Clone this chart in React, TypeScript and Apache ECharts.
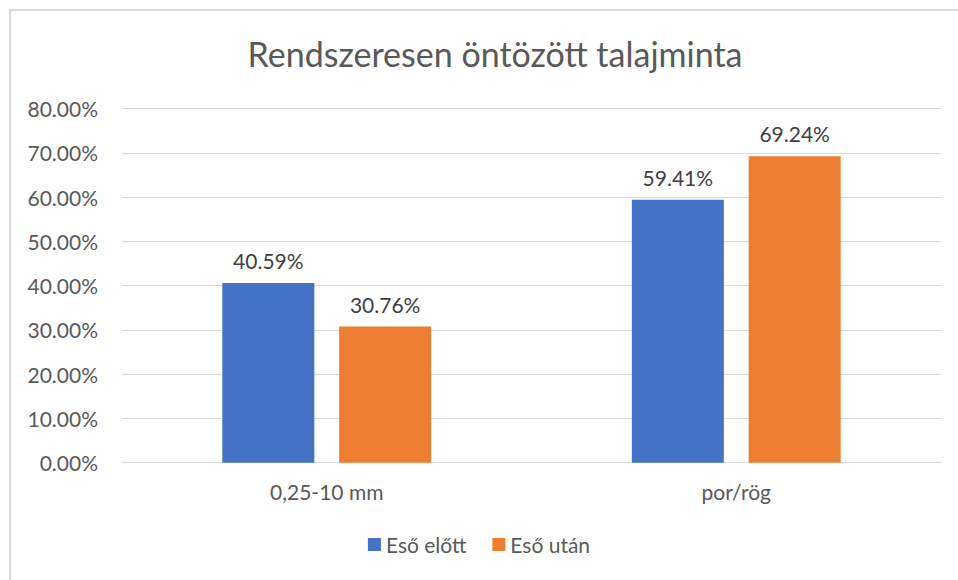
import React, { useEffect, useRef } from "react";
import * as echarts from "echarts";

const categories = ["0,25-10 mm", "por/rög"];
const seriesNames = ["Eső előtt", "Eső után"];
const before = [40.59, 59.41];
const after = [30.76, 69.24];
const titleText = "Rendszeresen öntözött talajminta";

const FONT = "Lato, 'Open Sans', sans-serif";

export default function App() {
  const ref = useRef<HTMLDivElement>(null);
  useEffect(() => {
    if (!ref.current) return;
    const chart = echarts.init(ref.current, undefined, { renderer: "svg" });
    const labelFmt = (p: any) => p.value.toFixed(2) + "%";
    chart.setOption({
      animation: false,
      backgroundColor: "#ffffff",
      textStyle: { fontFamily: FONT },
      title: {
        text: titleText,
        top: 31,
        left: 490,
        textAlign: "center",
        textStyle: { fontFamily: FONT, fontSize: 34, fontWeight: "normal", color: "#595959" },
      },
      graphic: [
        {
          type: "rect",
          shape: { x: 10, y: 10, width: 1000, height: 700 },
          style: { fill: "none", stroke: "#d9d9d9", lineWidth: 2 },
          silent: true,
        },
      ],
      legend: {
        data: seriesNames,
        bottom: 20,
        left: "center",
        itemWidth: 13,
        itemHeight: 13,
        itemGap: 26,
        icon: "rect",
        textStyle: { fontFamily: FONT, fontSize: 21, color: "#595959" },
      },
      grid: { left: 122, right: 17, top: 108.5, bottom: 117.3, containLabel: false },
      xAxis: {
        type: "category",
        data: categories,
        axisLine: { show: true, lineStyle: { color: "#d9d9d9", width: 1 } },
        axisTick: { show: false },
        axisLabel: { fontFamily: FONT, fontSize: 21, color: "#595959", margin: 18 },
      },
      yAxis: {
        type: "value",
        min: 0,
        max: 80,
        interval: 10,
        axisLine: { show: false },
        axisTick: { show: false },
        splitLine: { lineStyle: { color: "#d9d9d9", width: 1 } },
        axisLabel: {
          fontFamily: FONT,
          fontSize: 21,
          color: "#595959",
          margin: 24,
          formatter: (v: number) => v.toFixed(2) + "%",
        },
      },
      series: [
        {
          name: seriesNames[0],
          type: "bar",
          data: before,
          barWidth: 92,
          barGap: "27%",
          itemStyle: { color: "#4472C4" },
          label: { show: true, position: "top", distance: 12, formatter: labelFmt, fontFamily: FONT, fontSize: 21, color: "#404040" },
        },
        {
          name: seriesNames[1],
          type: "bar",
          data: after,
          barWidth: 92,
          barGap: "27%",
          itemStyle: { color: "#ED7D31" },
          label: { show: true, position: "top", distance: 12, formatter: labelFmt, fontFamily: FONT, fontSize: 21, color: "#404040" },
        },
      ],
    });
    return () => chart.dispose();
  }, []);
  return (
    <div
      ref={ref}
      style={{ position: "fixed", left: 0, top: 0, width: 958, height: 580 }}
    />
  );
}
